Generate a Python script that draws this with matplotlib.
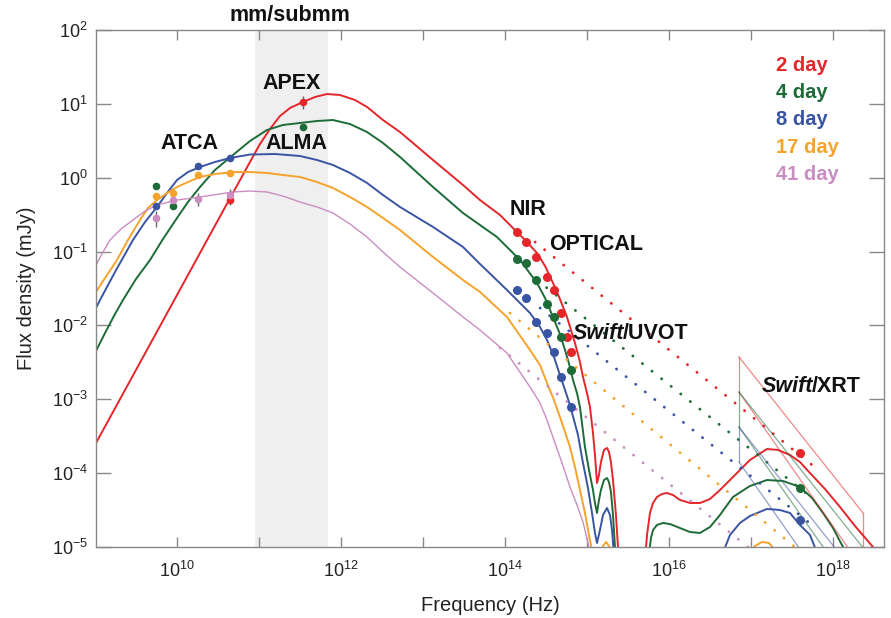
import numpy as np
import matplotlib
matplotlib.use('Agg')
import matplotlib.pyplot as plt

plt.rcParams['font.family'] = 'Liberation Sans'
plt.rcParams['mathtext.fontset'] = 'custom'
plt.rcParams['mathtext.rm'] = 'Liberation Sans'

# colours per epoch
c_red = '#e4262a'
c_grn = '#1d6b36'
c_blu = '#3a54a4'
c_org = '#f5a32c'
c_pnk = '#c98dc1'

days = ['2 day', '4 day', '8 day', '17 day', '41 day']
colors = [c_red, c_grn, c_blu, c_org, c_pnk]

# model SEDs: log10(nu / Hz), log10(F / mJy)
red_lx = [9.01, 10.632, 10.888, 11.010, 11.132, 11.254, 11.376, 11.534, 11.681, 11.827, 11.986,
          12.169, 12.315, 12.51, 12.717, 13.12, 13.486, 13.693, 13.937, 14.095, 14.242, 14.388,
          14.486, 14.583, 14.668, 14.754, 14.851, 14.912, 14.949, 14.998, 15.034, 15.071,
          15.095, 15.12, 15.144, 15.168, 15.205, 15.242, 15.266, 15.290, 15.315, 15.351,
          15.376, 15.388]
red_ly = [-3.592, -0.302, 0.213, 0.457, 0.660, 0.836, 0.944, 1.025, 1.093, 1.133, 1.120,
          1.052, 0.958, 0.781, 0.619, 0.240, -0.099, -0.302, -0.505, -0.681, -0.843, -1.019,
          -1.195, -1.425, -1.642, -1.886, -2.238, -2.495, -2.698, -2.915, -3.104, -3.456,
          -3.754, -4.133, -4.025, -3.849, -3.686, -3.659, -3.713, -3.849, -4.093, -4.566,
          -5.0, -5.176]
red_lx2 = [15.705, 15.730, 15.766, 15.803, 15.851, 15.912, 15.973, 16.047, 16.132, 16.254,
           16.376, 16.498, 16.620, 16.778, 16.985, 17.193, 17.327, 17.473, 17.595, 17.717,
           17.900, 18.083, 18.266, 18.486, 18.547]
red_ly2 = [-5.176, -4.837, -4.539, -4.404, -4.323, -4.282, -4.269, -4.296, -4.363, -4.404,
           -4.404, -4.350, -4.228, -4.052, -3.822, -3.673, -3.686, -3.754, -3.849, -3.998,
           -4.214, -4.458, -4.715, -5.0, -5.108]

grn_lx = [9.01, 9.120, 9.242, 9.339, 9.498, 9.669, 9.827, 9.998, 10.132, 10.278, 10.461,
          10.681, 10.888, 11.095, 11.290, 11.498, 11.705, 11.9, 12.108, 12.315, 12.51, 12.717,
          13.12, 13.486, 13.90, 14.181, 14.388, 14.486, 14.583, 14.668, 14.73, 14.79, 14.827,
          14.876, 14.912, 14.973, 15.022, 15.071, 15.095, 15.12, 15.144, 15.168, 15.205,
          15.242, 15.266, 15.290, 15.315, 15.339, 15.351]
grn_ly = [-2.346, -2.102, -1.845, -1.656, -1.371, -1.114, -0.830, -0.545, -0.329, -0.126,
          0.105, 0.308, 0.497, 0.646, 0.714, 0.741, 0.768, 0.781, 0.727, 0.619, 0.470, 0.281,
          -0.126, -0.478, -0.803, -1.114, -1.425, -1.628, -1.886, -2.116, -2.333, -2.563,
          -2.739, -2.915, -3.104, -3.646, -3.957, -4.228, -4.404, -4.539, -4.363, -4.228,
          -4.093, -4.066, -4.120, -4.255, -4.566, -5.0, -5.108]
grn_lx2 = [15.754, 15.778, 15.803, 15.851, 15.925, 16.010, 16.132, 16.254, 16.376, 16.498,
           16.620, 16.778, 16.985, 17.193, 17.388, 17.595, 17.742, 17.876, 17.998, 18.12, 18.18]
grn_ly2 = [-5.108, -4.878, -4.770, -4.702, -4.675, -4.689, -4.743, -4.797, -4.810, -4.729,
           -4.566, -4.323, -4.174, -4.093, -4.106, -4.187, -4.336, -4.539, -4.742, -5.0, -5.108]

blu_lx = [9.01, 9.059, 9.242, 9.461, 9.608, 9.754, 9.876, 9.998, 10.132, 10.278, 10.461,
          10.644, 10.888, 11.193, 11.498, 11.705, 11.9, 12.108, 12.315, 12.51, 12.717, 13.12,
          13.486, 13.693, 14.022, 14.303, 14.425, 14.51, 14.595, 14.668, 14.73, 14.79, 14.888,
          14.949, 15.010, 15.059, 15.095, 15.12, 15.156, 15.193, 15.242, 15.278, 15.303, 15.327]
blu_ly = [-1.764, -1.656, -1.276, -0.843, -0.600, -0.396, -0.207, -0.031, 0.077, 0.145, 0.213,
          0.267, 0.314, 0.321, 0.294, 0.240, 0.172, 0.064, -0.071, -0.234, -0.396, -0.667,
          -0.938, -1.168, -1.520, -1.832, -2.021, -2.197, -2.427, -2.671, -2.874, -3.077,
          -3.483, -3.862, -4.201, -4.539, -4.810, -4.946, -4.770, -4.566, -4.472, -4.566,
          -4.770, -5.108]
blu_lx2 = [16.644, 16.742, 16.863, 16.985, 17.193, 17.351, 17.473, 17.595, 17.717, 17.815]
blu_ly2 = [-5.108, -4.837, -4.675, -4.580, -4.485, -4.499, -4.539, -4.702, -4.837, -5.108]

org_lx = [9.01, 9.120, 9.266, 9.400, 9.547, 9.644, 9.754, 9.876, 9.998, 10.132, 10.278,
          10.461, 10.681, 10.888, 11.095, 11.290, 11.498, 11.705, 11.9, 12.108, 12.315, 12.51,
          12.717, 13.12, 13.486, 13.693, 14.022, 14.303, 14.425, 14.51, 14.595, 14.668, 14.73,
          14.79, 14.851, 14.912, 14.973, 15.022, 15.059, 15.071]
org_ly = [-1.547, -1.358, -1.114, -0.843, -0.572, -0.410, -0.302, -0.207, -0.126, -0.058,
          0.010, 0.050, 0.077, 0.077, 0.064, 0.037, 0.010, -0.058, -0.139, -0.261, -0.396,
          -0.545, -0.708, -1.073, -1.385, -1.547, -1.886, -2.333, -2.536, -2.779, -3.009,
          -3.240, -3.443, -3.646, -3.917, -4.228, -4.539, -4.837, -5.040, -5.108]
org_lx2 = [15.168, 15.193, 15.23, 15.266, 15.290]
org_ly2 = [-5.108, -4.986, -4.932, -4.986, -5.108]
org_lx3 = [16.961, 17.047, 17.132, 17.217, 17.290, 17.327]
org_ly3 = [-5.108, -4.986, -4.932, -4.946, -5.040, -5.108]

pnk_lx = [9.01, 9.095, 9.181, 9.315, 9.461, 9.608, 9.754, 9.998, 10.278, 10.681, 10.888,
          11.095, 11.290, 11.498, 11.705, 11.9, 12.108, 12.315, 12.51, 12.717, 13.12, 13.486,
          13.693, 14.022, 14.303, 14.425, 14.51, 14.595, 14.668, 14.73, 14.79, 14.876,
          14.949, 15.022, 15.034]
pnk_ly = [-1.182, -1.006, -0.843, -0.694, -0.572, -0.451, -0.369, -0.302, -0.261, -0.193,
          -0.180, -0.193, -0.248, -0.329, -0.396, -0.478, -0.627, -0.803, -1.006, -1.209,
          -1.561, -1.886, -2.062, -2.373, -2.834, -3.050, -3.280, -3.551, -3.781, -3.984,
          -4.187, -4.431, -4.661, -5.0, -5.108]

# unabsorbed power-law extensions (start, end)
dot_lx = [[14.364, 17.742], [14.388, 17.742], [14.425, 17.742], [14.059, 17.534], [13.937, 16.961]]
dot_ly = [[-0.870, -3.889], [-1.385, -4.336], [-1.764, -4.702], [-1.832, -5.0], [-2.305, -5.0]]

# radio / mm photometry (GHz, mJy, fractional error)
red_rad_nu = [44.0, 345.0]
red_rad_f = [0.50, 10.6]
red_rad_e = [0.15, 0.20]
grn_rad_nu = [5.5, 9.0, 345.0]
grn_rad_f = [0.77, 0.42, 4.9]
grn_rad_e = [0.0, 0.0, 0.0]
blu_rad_nu = [5.5, 18.0, 44.0]
blu_rad_f = [0.41, 1.44, 1.85]
blu_rad_e = [0.0, 0.0, 0.0]
org_rad_nu = [5.5, 9.0, 18.0, 44.0]
org_rad_f = [0.565, 0.62, 1.09, 1.16]
org_rad_e = [0.08, 0.1, 0.08, 0.08]
pnk_rad_nu = [5.5, 9.0, 18.0, 44.0]
pnk_rad_f = [0.285, 0.50, 0.515, 0.585]
pnk_rad_e = [0.25, 0.2, 0.2, 0.2]

# NIR / optical / UVOT photometry, log10 values
opt_lx_r = [14.144, 14.254, 14.376, 14.51, 14.595, 14.681, 14.754, 14.803]
opt_ly_r = [-0.735, -0.870, -1.073, -1.344, -1.520, -1.832, -2.157, -2.360]
opt_lx_gb = [14.144, 14.254, 14.376, 14.51, 14.595, 14.681, 14.803]
opt_ly_g = [-1.100, -1.155, -1.385, -1.710, -1.886, -2.157, -2.603]
opt_ly_b = [-1.520, -1.629, -1.953, -2.102, -2.360, -2.698, -3.104]

# XRT flux at 1.6 keV
xrt_lx = 17.595
xrt_ly = [-3.727, -4.201, -4.634]
# XRT 0.3-10 keV bowties: left/right log nu, [top, bottom] at each edge
bt_lx = [16.851, 18.364]
bt_left = [[-2.427, -2.901], [-2.901, -3.375], [-3.375, -3.849]]
bt_right = [[-4.539, -5.30], [-5.01, -5.77], [-5.49, -6.25]]

fig = plt.figure(figsize=(8.91, 6.18), dpi=100)
ax = fig.add_axes([96/891, 1 - 547/618, 788/891, 517/618])
ax.set_xscale('log')
ax.set_yscale('log')
ax.set_xlim(10**9.01, 10**18.62)
ax.set_ylim(1e-5, 1e2)

# mm/submm band
ax.axvspan(10**10.95, 10**11.84, color='#efefef', zorder=0, lw=0)

def P(lx, ly, **kw):
    ax.plot(10**np.array(lx), 10**np.array(ly), **kw)

lw = 1.4
solid = dict(lw=lw, solid_joinstyle='round')
P(red_lx, red_ly, color=c_red, **solid)
P(red_lx2, red_ly2, color=c_red, **solid)
P(grn_lx, grn_ly, color=c_grn, **solid)
P(grn_lx2, grn_ly2, color=c_grn, **solid)
P(blu_lx, blu_ly, color=c_blu, **solid)
P(blu_lx2, blu_ly2, color=c_blu, **solid)
P(org_lx, org_ly, color=c_org, **solid)
P(org_lx2, org_ly2, color=c_org, **solid)
P(org_lx3, org_ly3, color=c_org, **solid)
P(pnk_lx, pnk_ly, color=c_pnk, lw=1.0, solid_joinstyle='round')

for lx, ly, c in zip(dot_lx, dot_ly, colors):
    P(lx, ly, color=c, lw=2.0, linestyle=(0, (0.1, 4.3)), dash_capstyle='round')

# bowties
for i in range(3):
    c = colors[i]
    lt, lb = bt_left[i]
    rt, rb = bt_right[i]
    P([bt_lx[0], bt_lx[0]], [lt, lb], color=c, lw=0.9, alpha=0.55)
    P(bt_lx, [lt, rt], color=c, lw=0.9, alpha=0.55)
    P(bt_lx, [lb, rb], color=c, lw=0.9, alpha=0.55)
    P([bt_lx[1], bt_lx[1]], [rt, rb], color=c, lw=0.9, alpha=0.55)

# photometry
rad = [(red_rad_nu, red_rad_f, red_rad_e), (grn_rad_nu, grn_rad_f, grn_rad_e),
       (blu_rad_nu, blu_rad_f, blu_rad_e), (org_rad_nu, org_rad_f, org_rad_e),
       (pnk_rad_nu, pnk_rad_f, pnk_rad_e)]
for (nu, f, e), c in zip(rad, colors):
    nu = np.array(nu) * 1e9
    f = np.array(f)
    ax.errorbar(nu, f, yerr=np.array(e) * f, fmt='o', color=c, ms=5.5, mec='none',
                ecolor='#666666', elinewidth=1.0, capsize=0, zorder=5)

P(opt_lx_r, opt_ly_r, color=c_red, marker='o', ms=6.5, mec='none', ls='none', zorder=5)
P(opt_lx_gb, opt_ly_g, color=c_grn, marker='o', ms=6.5, mec='none', ls='none', zorder=5)
P(opt_lx_gb, opt_ly_b, color=c_blu, marker='o', ms=6.5, mec='none', ls='none', zorder=5)
for i in range(3):
    P([xrt_lx], [xrt_ly[i]], color=colors[i], marker='o', ms=6.5, mec='none', ls='none', zorder=5)

# axes styling
for s in ax.spines.values():
    s.set_color('#888888')
    s.set_linewidth(1.0)
xt = [10.0**k for k in range(10, 19)]
ax.set_xticks(xt)
ax.set_xticklabels([r'$\mathregular{10^{%d}}$' % k if k % 2 == 0 else '' for k in range(10, 19)])
yt = [10.0**k for k in range(-5, 3)]
ax.set_yticks(yt)
ax.set_yticklabels([r'$\mathregular{10^{%d}}$' % k for k in range(-5, 3)])
ax.minorticks_off()
ax.tick_params(axis='x', which='major', direction='in', length=7, width=1, color='#888888',
               top=True, labelsize=13, pad=10, labelcolor='#222222')
ax.tick_params(axis='y', which='major', direction='in', length=10.5, width=1, color='#888888',
               right=True, labelsize=13, pad=6, labelcolor='#222222')

ax.set_xlabel('Frequency (Hz)', fontsize=14.5, color='#222222')
ax.set_ylabel('Flux density (mJy)', fontsize=14.5, color='#222222')
ax.xaxis.set_label_coords(0.5, -0.095)
ax.yaxis.set_label_coords(-0.076, 0.5)

# instrument labels
lab = dict(fontsize=15.5, fontweight='bold', ha='center', va='center', color='#111111')
ax.text(10**11.40, 10**1.282, 'APEX', **lab)
ax.text(10**11.449, 10**0.457, 'ALMA', **lab)
ax.text(10**10.144, 10**0.470, 'ATCA', **lab)
ax.text(10**14.278, 10**-0.437, 'NIR', **lab)
ax.text(10**15.108, 10**-0.911, 'OPTICAL', **lab)
ax.text(10**11.376, 1.029, 'mm/submm', transform=ax.get_xaxis_transform(), clip_on=False, **lab)

def swift(x, y, inst):
    t = ax.text(x, y, 'Swift', fontsize=15.5, fontweight='bold', fontstyle='italic',
                ha='left', va='bottom', color='#111111')
    ax.annotate('/' + inst, xy=(1, 0), xycoords=t, xytext=(-0.8, 0), textcoords='offset points',
                fontsize=15.5, fontweight='bold', ha='left', va='bottom', color='#111111')

swift(10**14.827, 10**-2.251, 'UVOT')
swift(10**17.132, 10**-2.969, 'XRT')

# epoch key
for i, (d, c) in enumerate(zip(days, colors)):
    ax.text(0.863, 0.932 - i * 0.053, d, transform=ax.transAxes, fontsize=14.5,
            fontweight='bold', color=c, ha='left', va='center')

fig.savefig('out.png', dpi=100)
